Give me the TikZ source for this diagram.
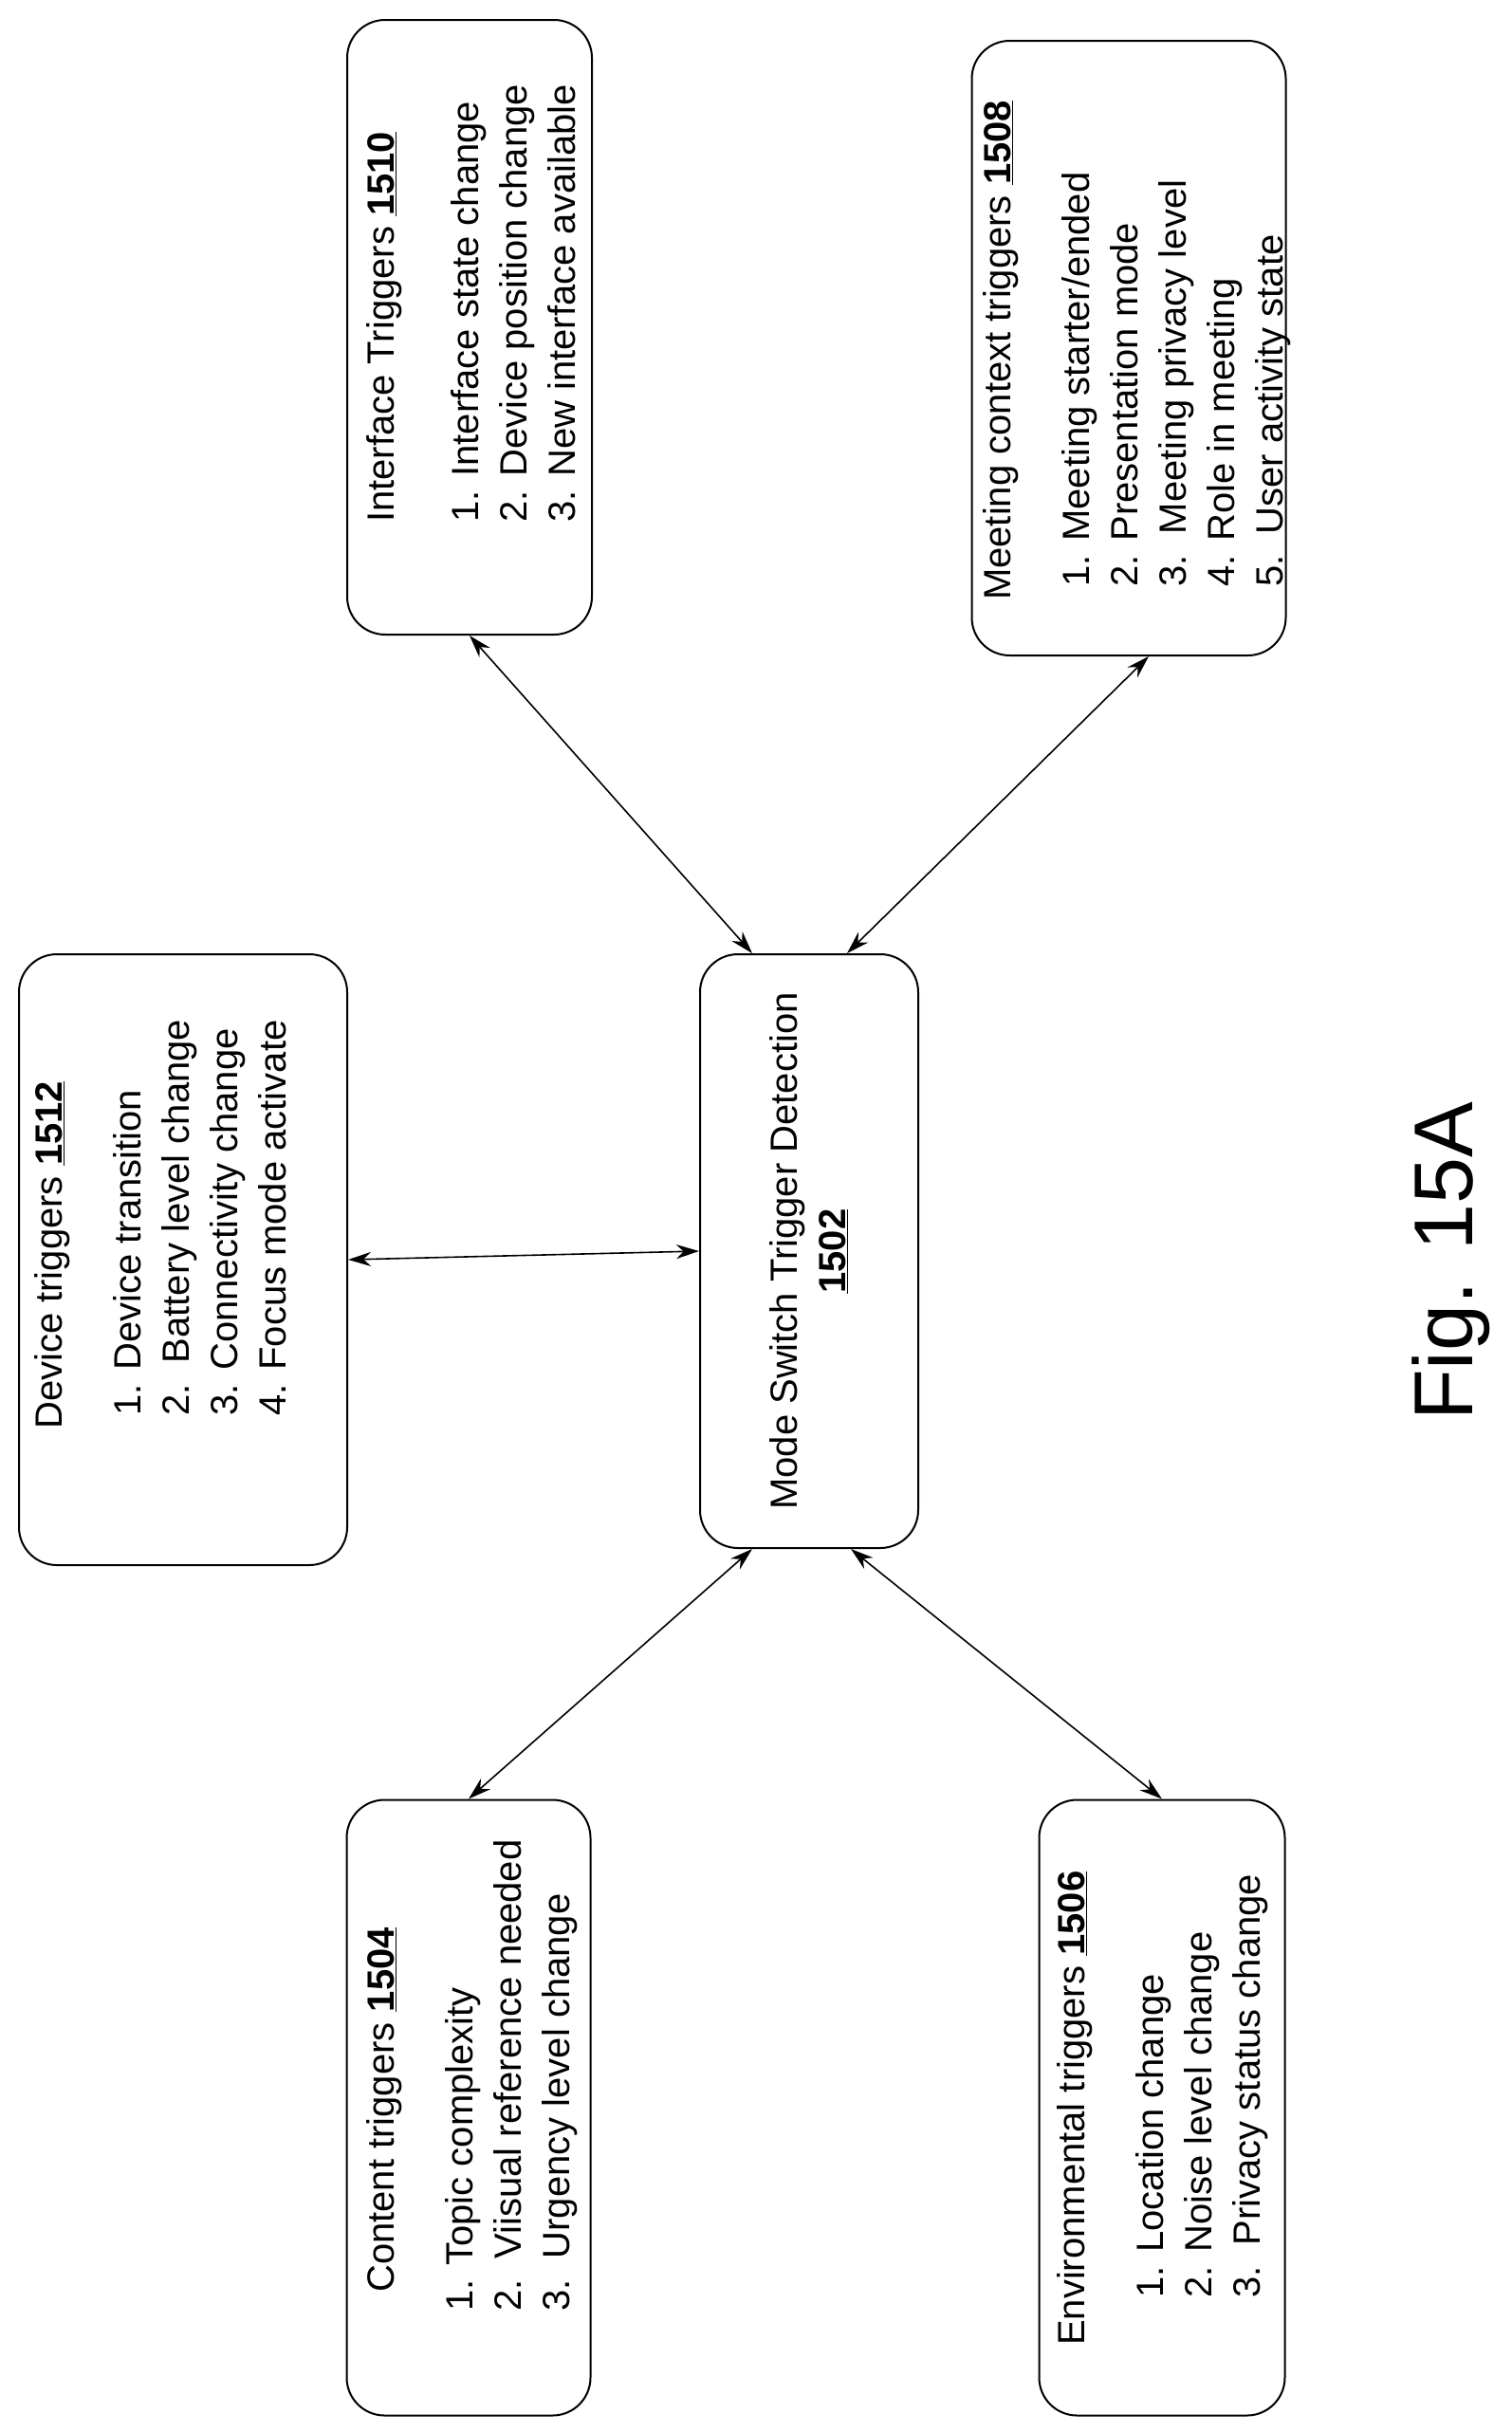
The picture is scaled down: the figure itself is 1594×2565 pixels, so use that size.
\documentclass[tikz,border=0pt]{standalone}
\usepackage{fontspec}
\setmainfont{Liberation Sans}
\usetikzlibrary{arrows.meta}
\begin{document}
\begin{tikzpicture}[x=1pt,y=-1pt,
  box/.style={draw,line width=2pt,rounded corners=40pt,minimum width=#1},
  txt/.style={rotate=90,anchor=north west,align=left,inner sep=0pt,font=\fontsize{40}{51}\selectfont},
  con/.style={line width=1.6pt,{Stealth[length=24pt,width=15pt]}-{Stealth[length=24pt,width=15pt]}}]
\useasboundingbox (0,0) rectangle (1594,2565);
\node[box, minimum width=258pt, minimum height=648pt] (iface) at (495,345) {};
\node[box, minimum width=331pt, minimum height=648pt] (meet) at (1190,367) {};
\node[box, minimum width=346pt, minimum height=644pt] (dev) at (193,1328) {};
\node[box, minimum width=230pt, minimum height=626pt] (mode) at (853,1319) {};
\node[box, minimum width=257pt, minimum height=649pt] (cont) at (494,2222) {};
\node[box, minimum width=259pt, minimum height=649pt] (env) at (1225,2222) {};

\node[txt] (t1) at (386,551) {Interface Triggers \textbf{\underline{1510}}\\[38pt]1. Interface state change\\2. Device position change\\3. New interface available};
\node[txt] (t2) at (1036,633) {Meeting context triggers \textbf{\underline{1508}}\\[32pt]\hspace*{14pt}1. Meeting starter/ended\\\hspace*{14pt}2. Presentation mode\\\hspace*{14pt}3.\ \ Meeting privacy level\\\hspace*{14pt}4. Role in meeting\\\hspace*{14pt}5.\ \ User activity state};
\node[txt] (t3) at (36,1507) {Device triggers \textbf{\underline{1512}}\\[32pt]\hspace*{14pt}1. Device transition\\\hspace*{14pt}2.\ \ Battery level change\\\hspace*{14pt}3. Connectivity change\\\hspace*{14pt}4. Focus mode activate};
\node[txt] (t4) at (386,2437) {\hspace*{20pt}Content triggers \textbf{\underline{1504}}\\[32pt]1. Topic complexity\\2.\ \ Viisual reference needed\\3.\ \ Urgency level change};
\node[txt] (t5) at (1114,2473) {Environmental triggers \textbf{\underline{1506}}\\[32pt]\hspace*{50pt}1. Location change\\\hspace*{50pt}2. Noise level change\\\hspace*{50pt}3.\ \ Privacy status change};
\node[rotate=90,align=center,inner sep=0pt,font=\fontsize{40}{51}\selectfont] (t6) at (mode.center) {Mode Switch Trigger Detection\\\textbf{\underline{1502}}};
\node[rotate=90,inner sep=0pt,font=\fontsize{88}{100}\selectfont] (fig) at (1530,1330) {Fig. 15A};

\draw[con] (iface.south) -- ([xshift=-60pt]mode.north);
\draw[con] ([xshift=21pt]meet.south) -- ([xshift=40pt]mode.north);
\draw[con] (dev.east) -- (mode.west);
\draw[con] ([xshift=-60pt]mode.south) -- (cont.north);
\draw[con] ([xshift=44pt]mode.south) -- (env.north);
\end{tikzpicture}
\end{document}
